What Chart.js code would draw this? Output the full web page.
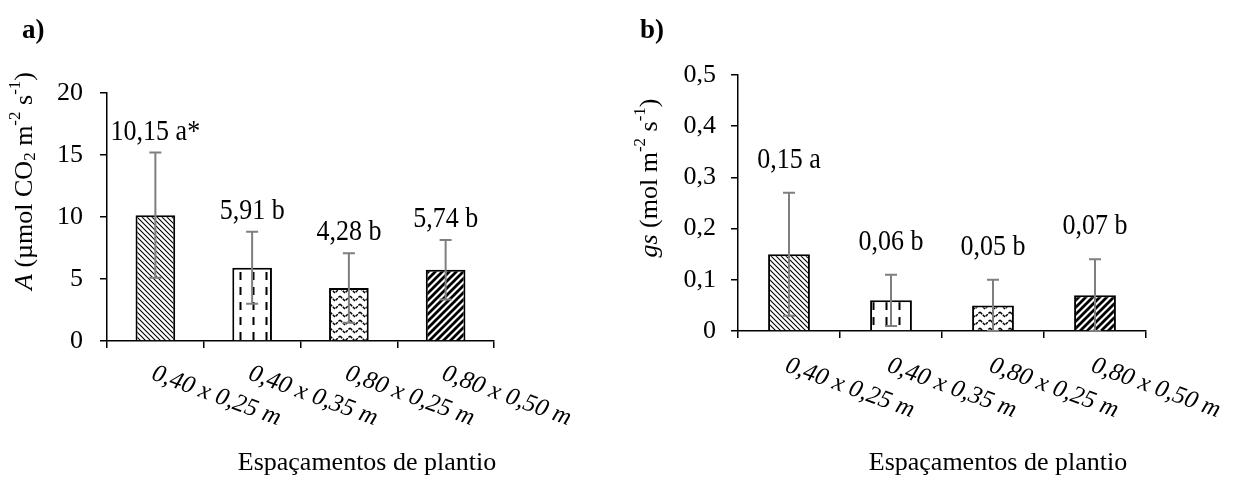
<!DOCTYPE html>
<html>
<head>
<meta charset="utf-8">
<title>Espaçamentos de plantio</title>
<script src="https://cdn.jsdelivr.net/npm/chart.js"></script>
<style>
	body { margin: 0; background: #fff; }
	#wrap { position: relative; width: 1242px; height: 493px; }
	.painel { position: absolute; top: 0; }
	#pa { left: 0; }
	#pb { left: 620px; }
</style>
</head>
<body>
<div id="wrap">
	<div class="painel" id="pa"><canvas id="chartA" width="620" height="493"></canvas></div>
	<div class="painel" id="pb"><canvas id="chartB" width="622" height="493"></canvas></div>
</div>

<script>
	// dados
	const espacamentos = ['0,40 x 0,25 m', '0,40 x 0,35 m', '0,80 x 0,25 m', '0,80 x 0,50 m']

	const fotossintese = [10.15, 5.91, 4.28, 5.74]     // A
	const erroA = [5.05, 2.9, 2.8, 2.4]
	const letrasA = ['a*', 'b', 'b', 'b']

	const condutancia = [0.15, 0.06, 0.05, 0.07]       // gs
	const erroGs = [0.12, 0.05, 0.05, 0.07]
	const letrasGs = ['a', 'b', 'b', 'b']

	const ticksA = [0, 5, 10, 15, 20]
	const ticksGs = [0, 0.1, 0.2, 0.3, 0.4, 0.5]

	const FONTE = "'Liberation Serif', 'Times New Roman', serif"

	// padrões de preenchimento das barras
	function padrao(tipo) {
		const c = document.createElement('canvas')
		const g = c.getContext('2d')
		if (tipo === 'contrabarra') {
			c.width = c.height = 5
			g.fillStyle = '#fff'; g.fillRect(0, 0, 5, 5)
			g.strokeStyle = '#000'; g.lineWidth = 1.1
			g.beginPath()
			for (let k = -1; k <= 1; k++) { g.moveTo(k * 5 - 1, -1); g.lineTo(k * 5 + 6, 6) }
			g.stroke()
		} else if (tipo === 'tracos') {
			c.width = 13; c.height = 15
			g.fillStyle = '#fff'; g.fillRect(0, 0, 13, 15)
			g.fillStyle = '#000'; g.fillRect(5.5, 2, 2, 8)
		} else if (tipo === 'zigue') {
			c.width = 10; c.height = 8
			g.fillStyle = '#fff'; g.fillRect(0, 0, 10, 8)
			g.strokeStyle = '#000'; g.lineWidth = 1.5
			g.setLineDash([3, 1])
			g.beginPath()
			for (const d of [-8, 0, 8]) {
				g.moveTo(0, d); g.lineTo(5, d + 5); g.lineTo(10, d)
			}
			g.stroke()
		} else {
			c.width = c.height = 7
			g.fillStyle = '#fff'; g.fillRect(0, 0, 7, 7)
			g.strokeStyle = '#000'; g.lineWidth = 2.8
			g.beginPath()
			for (let k = 0; k <= 2; k++) { g.moveTo(k * 7 + 1, -1); g.lineTo(k * 7 - 8, 8) }
			g.stroke()
		}
		return g.createPattern(c, 'repeat')
	}

	// texto com partes em itálico, sobrescrito e subscrito
	function textoRico(ctx, partes, tam) {
		const fonte = p => (p.it ? 'italic ' : '') + Math.round(p.pos ? tam * 0.65 : tam) + 'px ' + FONTE
		let larg = 0
		partes.forEach(p => { ctx.font = fonte(p); larg += ctx.measureText(p.t).width })
		let x = -larg / 2
		partes.forEach(p => {
			ctx.font = fonte(p)
			const dy = p.pos === 'sup' ? -tam * 0.38 : p.pos === 'sub' ? tam * 0.22 : 0
			ctx.fillText(p.t, x, dy)
			x += ctx.measureText(p.t).width
		})
	}

	const barrasErro = {
		id: 'barrasErro',
		afterDatasetsDraw(chart, args, o) {
			const { ctx, scales: { x, y } } = chart
			const valores = chart.data.datasets[0].data
			ctx.save()
			valores.forEach((v, i) => {
				const px = x.getPixelForValue(i)
				const topo = y.getPixelForValue(v + o.erros[i])
				const base = y.getPixelForValue(v - o.erros[i])
				ctx.strokeStyle = '#7f7f7f'
				ctx.lineWidth = 2
				ctx.beginPath()
				ctx.moveTo(px, topo); ctx.lineTo(px, base)
				ctx.moveTo(px - 6, topo); ctx.lineTo(px + 6, topo)
				ctx.moveTo(px - 6, base); ctx.lineTo(px + 6, base)
				ctx.stroke()

				// rótulo do valor (um pouco esticado na vertical como no original)
				ctx.save()
				ctx.translate(px, topo - o.folga)
				ctx.scale(1, 1.15)
				ctx.fillStyle = '#000'
				ctx.font = '26px ' + FONTE
				ctx.textAlign = 'center'
				ctx.textBaseline = 'alphabetic'
				ctx.fillText(v.toFixed(2).replace('.', ',') + ' ' + o.letras[i], 0, 0)
				ctx.restore()
			})
			ctx.restore()
		}
	}

	const textos = {
		id: 'textos',
		afterDraw(chart, args, o) {
			const { ctx, chartArea, scales: { x } } = chart
			ctx.save()
			ctx.fillStyle = '#000'

			// rótulos das categorias, inclinados para baixo
			ctx.font = 'italic 25px ' + FONTE
			ctx.textAlign = 'left'
			ctx.textBaseline = 'alphabetic'
			espacamentos.forEach((rot, i) => {
				ctx.save()
				ctx.translate(x.getPixelForValue(i) - 5, chartArea.bottom + o.desceRotulo)
				ctx.rotate(20 * Math.PI / 180)
				ctx.fillText(rot, 0, 0)
				ctx.restore()
			})

			// título do eixo x
			ctx.font = '26px ' + FONTE
			ctx.textAlign = 'center'
			ctx.fillText('Espaçamentos de plantio', chartArea.left + 260, 470)

			// letra do painel
			ctx.font = 'bold 27px ' + FONTE
			ctx.textAlign = 'left'
			ctx.fillText(o.letra, o.letraX, 38)

			// título do eixo y
			ctx.save()
			ctx.translate(o.tituloX, o.tituloY)
			ctx.rotate(-Math.PI / 2)
			ctx.textAlign = 'left'
			ctx.textBaseline = 'middle'
			textoRico(ctx, o.titulo, 26)
			ctx.restore()

			ctx.restore()
		}
	}

	function criarGrafico(id, cfg) {
		return new Chart(document.getElementById(id), {
			type: 'bar',
			data: {
				labels: espacamentos,
				datasets: [{
					data: cfg.valores,
					backgroundColor: [padrao('contrabarra'), padrao('tracos'), padrao('zigue'), padrao('barra')],
					borderColor: '#000',
					borderWidth: 2,
					borderSkipped: 'bottom',
					barPercentage: 0.41,
					categoryPercentage: 1
				}]
			},
			options: {
				responsive: false,
				animation: false,
				events: [],
				layout: { padding: { left: 0, top: cfg.topo, right: cfg.direita, bottom: 0 } },
				plugins: {
					legend: { display: false },
					tooltip: { enabled: false },
					barrasErro: { erros: cfg.erros, letras: cfg.letras, folga: cfg.folga },
					textos: cfg.textos
				},
				scales: {
					x: {
						ticks: { display: false },
						grid: { offset: true, drawOnChartArea: false, color: '#000', lineWidth: 1.5, tickLength: 7 },
						border: { color: '#000', width: 1.5 },
						afterFit: s => { s.height = 493 - cfg.fundo }
					},
					y: {
						min: 0,
						max: cfg.ticks[cfg.ticks.length - 1],
						afterBuildTicks: s => { s.ticks = cfg.ticks.map(v => ({ value: v })) },
						ticks: {
							color: '#000',
							padding: cfg.folgaTick,
							font: { family: FONTE, size: 26 },
							callback: cfg.formato
						},
						grid: { drawOnChartArea: false, color: '#000', lineWidth: 1.5, tickLength: 7 },
						border: { color: '#000', width: 1.5 },
						afterFit: s => { s.width = cfg.esquerda }
					}
				}
			},
			plugins: [barrasErro, textos]
		})
	}

	criarGrafico('chartA', {
		valores: fotossintese, erros: erroA, letras: letrasA, ticks: ticksA,
		formato: v => String(v),
		esquerda: 107, topo: 93, direita: 620 - 494, fundo: 341, folga: 13, folgaTick: 17,
		textos: {
			letra: 'a)', letraX: 22, desceRotulo: 38, tituloX: 25, tituloY: 181,
			titulo: [
				{ t: 'A', it: true }, { t: ' (µmol CO' }, { t: '2', pos: 'sub' },
				{ t: ' m' }, { t: '-2', pos: 'sup' }, { t: ' s' }, { t: '-1', pos: 'sup' }, { t: ')' }
			]
		}
	})

	criarGrafico('chartB', {
		valores: condutancia, erros: erroGs, letras: letrasGs, ticks: ticksGs,
		formato: v => v === 0 ? '0' : v.toFixed(1).replace('.', ','),
		esquerda: 118, topo: 75, direita: 622 - 526, fundo: 331, folga: 25, folgaTick: 15,
		textos: {
			letra: 'b)', letraX: 20, desceRotulo: 40, tituloX: 30, tituloY: 178,
			titulo: [
				{ t: 'gs', it: true }, { t: ' (mol m' }, { t: '-2', pos: 'sup' },
				{ t: ' s' }, { t: '-1', pos: 'sup' }, { t: ')' }
			]
		}
	})
</script>
</body>
</html>
